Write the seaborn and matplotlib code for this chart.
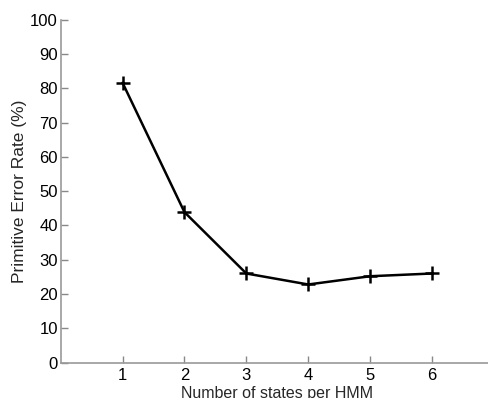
import matplotlib
matplotlib.use('Agg')
import matplotlib.pyplot as plt
import seaborn as sns
import pandas as pd

# values
states = [1, 2, 3, 4, 5, 6]
error_rate = [81.6, 43.9, 26.0, 22.8, 25.2, 26.0]
y_ticks = [0, 10, 20, 30, 40, 50, 60, 70, 80, 90, 100]

df = pd.DataFrame({'states': states, 'error': error_rate})

sns.set_style('ticks')
plt.rcParams['font.family'] = ['Liberation Sans', 'DejaVu Sans']

fig = plt.figure(figsize=(4.89, 3.98), dpi=100)
ax = fig.add_axes([0.124, 0.0887, 0.886, 0.862])

sns.lineplot(x='states', y='error', data=df, ax=ax, color='black', linewidth=1.8,
             marker='+', markersize=10, markeredgewidth=1.8, markeredgecolor='black')

ax.set_xlim(0, 7)
ax.set_ylim(0, 100)
ax.set_xticks(states)
ax.set_yticks(y_ticks)
ax.tick_params(direction='in', length=5, width=1, color='#888888', labelsize=12,
               labelcolor='black')
ax.tick_params(axis='x', pad=4)
ax.tick_params(axis='y', pad=2)

for side in ['top', 'right']:
    ax.spines[side].set_visible(False)
for side in ['left', 'bottom']:
    ax.spines[side].set_color('#999999')
    ax.spines[side].set_linewidth(1.2)

ax.set_xlabel('Number of states per HMM', fontsize=11.5, labelpad=2)
ax.set_ylabel('Primitive Error Rate (%)', fontsize=12.5, labelpad=2)

plt.savefig('out.png', dpi=100)
